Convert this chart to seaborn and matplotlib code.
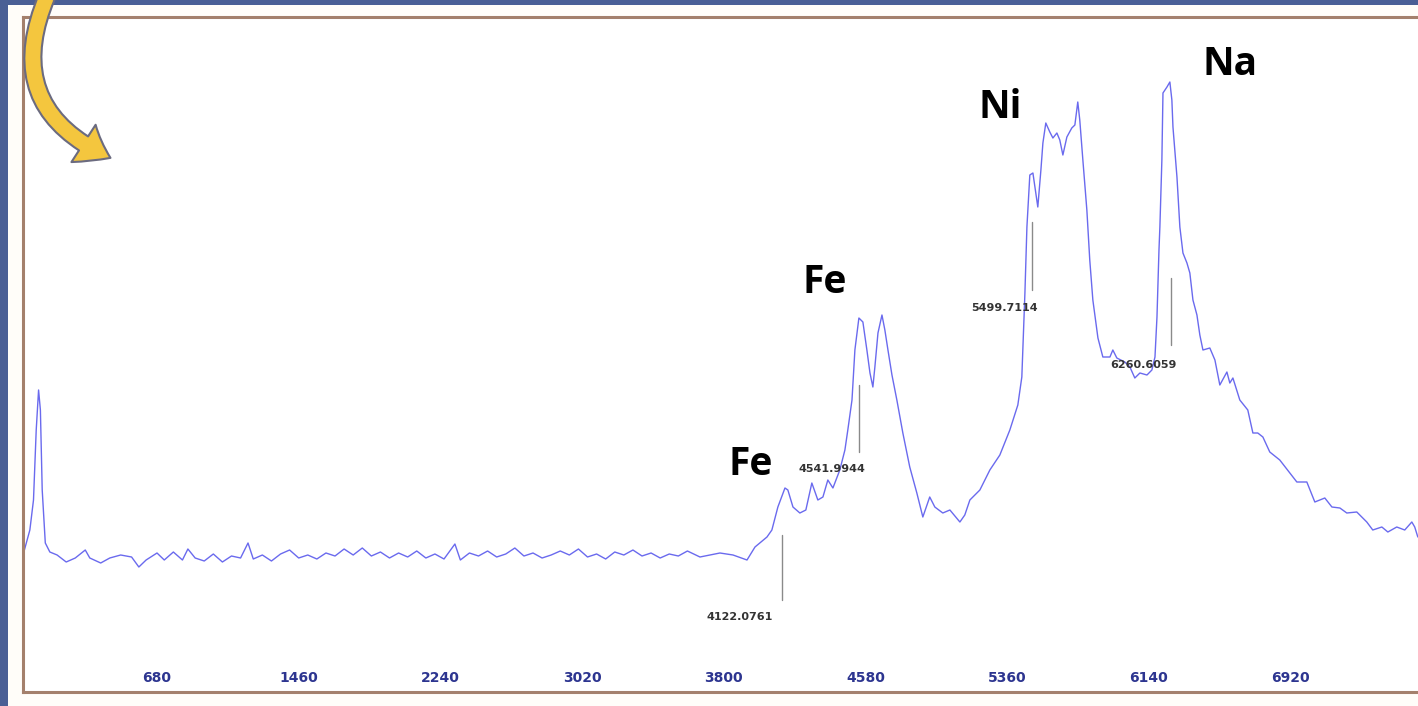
import matplotlib
matplotlib.use("Agg")
import matplotlib.pyplot as plt
import seaborn as sns
import pandas as pd
from matplotlib.patches import Rectangle, FancyArrowPatch

# spectrum (channel, counts)
channel = [-50, -20, 0, 15, 28, 38, 48, 65, 90, 130, 180, 230, 285, 310, 370, 420,
           480, 540, 580, 620, 680, 720, 770, 820, 850, 890,
           940, 990, 1040, 1090, 1140, 1181, 1210, 1260, 1310, 1360, 1410, 1460,
           1510, 1560, 1610, 1660, 1710, 1760, 1810, 1860, 1910, 1960, 2010, 2060,
           2110, 2160, 2210, 2260, 2320, 2350, 2400, 2450, 2500, 2550, 2600, 2650,
           2700, 2750, 2800, 2850, 2900, 2950, 3000, 3050, 3100, 3150, 3200, 3250,
           3300, 3350, 3400, 3450, 3500, 3550, 3600, 3669, 3779, 3851, 3928, 3972,
           4038, 4065, 4098, 4137, 4153, 4181, 4219, 4252, 4285, 4318, 4346, 4373,
           4401, 4439, 4467, 4483, 4506, 4522, 4544, 4566, 4588, 4605, 4621, 4632,
           4649, 4671, 4687, 4704, 4726, 4753, 4786, 4824, 4863, 4896, 4934, 4962,
           5006, 5045, 5100, 5127, 5155, 5210, 5265, 5320, 5375, 5419, 5441, 5458,
           5469, 5485, 5502, 5518, 5529, 5546, 5557, 5573, 5595, 5612, 5634, 5650,
           5667, 5689, 5716, 5733, 5749, 5760, 5777, 5799, 5815, 5832, 5860, 5887,
           5926, 5942, 5964, 6008, 6036, 6063, 6091, 6130, 6157, 6174, 6185, 6196,
           6201, 6212, 6218, 6240, 6256, 6267, 6273, 6295, 6311, 6328, 6350, 6366,
           6383, 6405, 6421, 6438, 6476, 6504, 6531, 6570, 6586, 6603, 6641, 6685,
           6713, 6740, 6768, 6806, 6861, 6917, 6955, 7010, 7054, 7109, 7148, 7192,
           7230, 7285, 7340, 7373, 7423, 7456, 7505, 7549, 7588, 7604, 7621]
counts = [142, 162, 192, 262, 302, 282, 202, 149, 140, 137, 130, 134, 142, 134, 129, 134,
          137, 135, 125, 132, 139, 132, 140, 132, 143, 134,
          131, 138, 130, 136, 134, 149, 133, 137, 131, 138, 142, 134,
          137, 133, 139, 136, 143, 137, 144, 136, 140, 134, 139, 135,
          141, 134, 138, 133, 148, 132, 139, 136, 141, 135, 138, 144,
          136, 139, 134, 137, 141, 137, 143, 135, 138, 133, 140, 137,
          142, 136, 139, 134, 138, 136, 141, 135, 139, 137, 132, 145,
          155, 162, 185, 204, 202, 185, 179, 182, 209, 192, 195, 212,
          204, 222, 242, 262, 292, 342, 374, 370, 342, 319, 305, 325,
          359, 377, 362, 342, 317, 292, 259, 225, 199, 175, 195, 185,
          179, 182, 170, 177, 192, 202, 222, 237, 262, 287, 315, 399,
          465, 517, 519, 499, 485, 522, 549, 569, 560, 554, 559, 552,
          537, 555, 564, 567, 590, 572, 532, 482, 432, 392, 354, 335,
          335, 342, 334, 330, 325, 314, 319, 317, 322, 335, 375, 442,
          465, 532, 599, 605, 610, 592, 565, 515, 465, 439, 429, 419,
          392, 377, 357, 342, 344, 332, 307, 320, 309, 314, 292, 282,
          259, 259, 255, 240, 232, 219, 210, 210, 190, 194, 185, 184,
          179, 180, 170, 162, 165, 160, 165, 162, 170, 165, 155]

x_ticks = [680, 1460, 2240, 3020, 3800, 4580, 5360, 6140, 6920]

# peak markers: value, marker line top / bottom, label position
peak_values = [4122.0761, 4541.9944, 5499.7114, 6260.6059]
peak_line_top = [157, 307, 470, 414]
peak_line_bottom = [92, 240, 402, 347]
peak_text_x = [3889, 4396, 5348, 6110]
peak_text_y = [72, 220, 381, 324]

elements = ["Fe", "Fe", "Ni", "Na"]
element_x = [3950, 4357, 5320, 6587]
element_y = [217, 399, 574, 617]

df = pd.DataFrame({"channel": channel, "counts": counts})

sns.set_style("white")
fig = plt.figure(figsize=(14.18, 7.06), dpi=100, facecolor="#4a5f95")

# white slide card behind the chart
fig.patches.append(Rectangle((8 / 1418, 0), 1, 1 - 5 / 706, transform=fig.transFigure,
                             facecolor="#fffdf9", edgecolor="none", zorder=-5))

ax = fig.add_axes([23.5 / 1418, 14 / 706, 1 - 23.5 / 1418, 675 / 706])
ax.set_facecolor("white")

sns.lineplot(data=df, x="channel", y="counts", ax=ax, color="#6a6aee", linewidth=1.0,
             sort=False)

for v, top, bot, tx, ty in zip(peak_values, peak_line_top, peak_line_bottom,
                               peak_text_x, peak_text_y):
    ax.plot([v, v], [bot, top], color="#8a8a8a", linewidth=1.0)
    ax.text(tx, ty, f"{v:.4f}", ha="center", va="baseline", fontsize=8,
            fontweight="bold", color="#333333", family="DejaVu Sans")

for name, ex, ey in zip(elements, element_x, element_y):
    ax.text(ex, ey, name, ha="center", va="baseline", fontsize=28,
            fontweight="bold", color="black", family="Open Sans")

ax.set_xlim(-55, 7622)
ax.set_ylim(0, 675)
ax.set_xticks(x_ticks)
ax.set_xticklabels([str(t) for t in x_ticks])
ax.set_xticks(range(-40, 7622, 78), minor=True)
ax.set_yticks(range(8, 675, 16))
ax.set_yticklabels([])
ax.set_xlabel("")
ax.set_ylabel("")
ax.tick_params(axis="x", which="major", direction="in", length=4, pad=-15,
               labelsize=10, labelcolor="#2d3590", color="#6a5a55")
ax.tick_params(axis="x", which="minor", direction="in", length=2, color="#6a5a55")
ax.tick_params(axis="y", direction="in", length=3, color="#5a5a70")
for lab in ax.get_xticklabels():
    lab.set_fontweight("bold")
    lab.set_family(["Liberation Sans Narrow", "DejaVu Sans"])

for side in ["left", "top", "bottom"]:
    ax.spines[side].set_color("#a4806c")
    ax.spines[side].set_linewidth(2.2)
ax.spines["right"].set_visible(False)

# curved yellow arrow in the top left corner
arrow = FancyArrowPatch((48, 712), (113, 547), transform=None,
                        connectionstyle="arc3,rad=0.5",
                        arrowstyle="simple,head_length=1.1,head_width=1.6,tail_width=0.6",
                        mutation_scale=20, facecolor="#f4c63e", edgecolor="#6b6b80",
                        linewidth=1.5, zorder=10)
fig.patches.append(arrow)

fig.savefig("out.png", dpi=100, facecolor=fig.get_facecolor())
